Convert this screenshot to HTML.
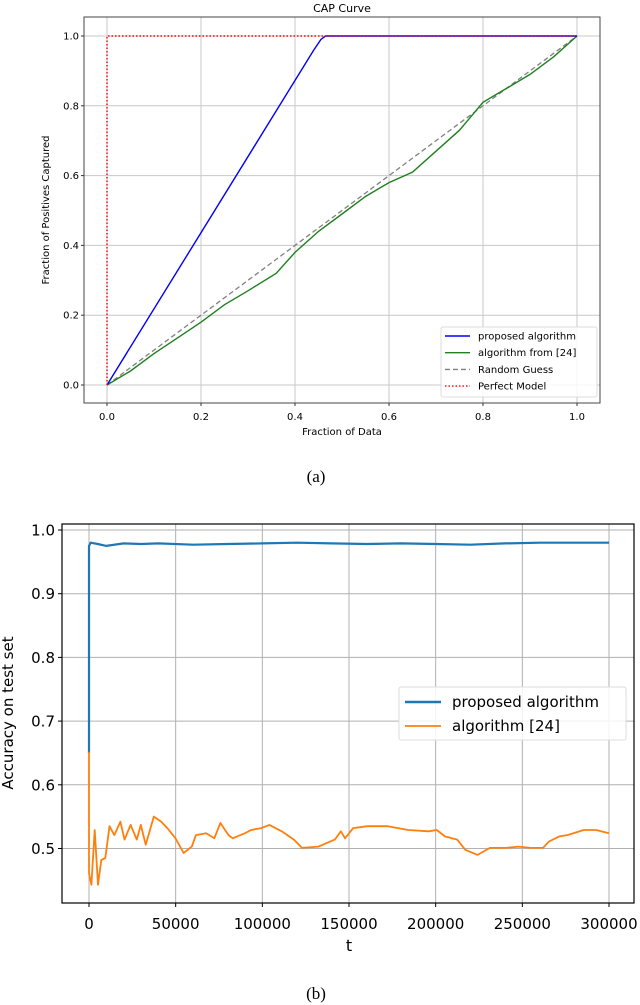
<!DOCTYPE html>
<html><head><meta charset="utf-8"><style>
body{margin:0;background:#fff;width:640px;height:1005px;overflow:hidden}
svg{display:block}
text{font-family:"DejaVu Sans","Liberation Sans",sans-serif}
</style></head><body>
<svg id="s" width="640" height="1005" xmlns="http://www.w3.org/2000/svg">
<text x="342" y="12" font-size="11" text-anchor="middle">CAP Curve</text>
<text x="316" y="482" font-size="17" text-anchor="middle" style="font-family:'Liberation Serif',serif">(a)</text>
<text x="316" y="999" font-size="17" text-anchor="middle" style="font-family:'Liberation Serif',serif">(b)</text>
<text transform="translate(49,210) rotate(-90)" font-size="10" text-anchor="middle">Fraction of Positives Captured</text>
<text x="342" y="435" font-size="10" text-anchor="middle">Fraction of Data</text>
<text transform="translate(13,713) rotate(-90)" font-size="15" text-anchor="middle">Accuracy on test set</text>
<text x="349" y="951" font-size="16" text-anchor="middle">t</text>
<g id="top"></g><g id="bot"></g>
</svg>
<script>
// ---- CAP chart data ----
const capTicks=[0,0.2,0.4,0.6,0.8,1.0];
const capTickLabels=["0.0","0.2","0.4","0.6","0.8","1.0"];
const propX=[0,0.44,0.455,0.465,0.51,1.0];
const propY=[0,0.96,0.99,1.0,1.0,1.0];
const greenX=[0,0.05,0.1,0.15,0.2,0.25,0.3,0.36,0.4,0.45,0.5,0.55,0.6,0.65,0.7,0.75,0.8,0.85,0.9,0.95,1.0];
const greenY=[0,0.04,0.09,0.135,0.18,0.23,0.27,0.32,0.38,0.44,0.49,0.54,0.58,0.61,0.67,0.73,0.81,0.85,0.89,0.94,1.0];
const randX=[0,1];const randY=[0,1];
const perfX=[0,0,1];const perfY=[0,1,1];
// ---- Accuracy chart data ----
const accTicksY=[0.5,0.6,0.7,0.8,0.9,1.0];
const accTickLabelsY=["0.5","0.6","0.7","0.8","0.9","1.0"];
const accTicksX=[0,50000,100000,150000,200000,250000,300000];
const accTickLabelsX=["0","50000","100000","150000","200000","250000","300000"];
const blueT=[0,0,1000,5000,10000,20000,30000,40000,60000,80000,100000,120000,140000,160000,180000,200000,220000,240000,260000,280000,300000];
const blueV=[0.65,0.975,0.98,0.978,0.975,0.979,0.978,0.979,0.977,0.978,0.979,0.98,0.979,0.978,0.979,0.978,0.977,0.979,0.98,0.98,0.98];
const orT=[0,0,1400,3300,5200,7100,9400,11800,14600,18100,20500,24000,27600,29900,32700,37400,41700,45200,49900,54600,59300,61700,67600,72300,75800,80500,82900,90000,93500,99400,104100,111200,118200,122900,132400,141800,145300,147700,152400,160600,172400,184200,195900,200600,205400,212400,217100,224200,231300,240700,247700,254800,261900,265400,271300,276000,285400,292500,300000];
const orV=[0.652,0.461,0.443,0.529,0.443,0.482,0.485,0.535,0.521,0.542,0.514,0.537,0.514,0.537,0.506,0.550,0.542,0.532,0.516,0.493,0.503,0.521,0.524,0.516,0.540,0.521,0.516,0.524,0.529,0.532,0.537,0.527,0.514,0.501,0.503,0.514,0.527,0.516,0.532,0.535,0.535,0.529,0.527,0.529,0.519,0.514,0.498,0.490,0.501,0.501,0.503,0.501,0.501,0.511,0.519,0.521,0.529,0.529,0.524];

const NS="http://www.w3.org/2000/svg";
function mk(p,tag,a){const e=document.createElementNS(NS,tag);for(const k in a)e.setAttribute(k,a[k]);p.appendChild(e);return e;}
function pts(xs,ys,fx,fy){return xs.map((x,i)=>fx(x).toFixed(1)+","+fy(ys[i]).toFixed(1)).join(" ");}

// top
const T=document.getElementById('top');
const cx=v=>107+v*470, cy=v=>385-v*349;
capTicks.forEach((v,i)=>{
 let g=mk(T,'line',{x1:cx(v),x2:cx(v),y1:17,y2:403,stroke:'#c8c8c8','stroke-width':1});
 
 g=mk(T,'line',{x1:84,x2:600,y1:cy(v),y2:cy(v),stroke:'#c8c8c8','stroke-width':1});
 
 let t=mk(T,'text',{x:cx(v),y:420,'font-size':10,'text-anchor':'middle'});t.textContent=capTickLabels[i];
 
 t=mk(T,'text',{x:79,y:cy(v)+3.5,'font-size':10,'text-anchor':'end'});t.textContent=capTickLabels[i];
 
 mk(T,'line',{x1:cx(v),x2:cx(v),y1:403,y2:406,stroke:'#333'});
 mk(T,'line',{x1:81,x2:84,y1:cy(v),y2:cy(v),stroke:'#333'});
});
let l;
l=mk(T,'polyline',{points:pts(randX,randY,cx,cy),fill:'none',stroke:'#808080','stroke-width':1.3,'stroke-dasharray':'5,3'});

l=mk(T,'polyline',{points:pts(greenX,greenY,cx,cy),fill:'none',stroke:'#1e801e','stroke-width':1.4});

l=mk(T,'polyline',{points:pts(propX,propY,cx,cy),fill:'none',stroke:'#0000ff','stroke-width':1.4});

l=mk(T,'polyline',{points:pts(perfX,perfY,cx,cy),fill:'none',stroke:'#ff0000','stroke-width':1.4,'stroke-dasharray':'1.5,2'});

l=mk(T,'rect',{x:84,y:17,width:516,height:386,fill:'none',stroke:'#444','stroke-width':1});

const lg=mk(T,'g',{});

mk(lg,'rect',{x:441,y:327,width:156,height:70,fill:'#fff','fill-opacity':0.85,stroke:'#ddd',rx:2});
[['proposed algorithm','#0000ff',''],['algorithm from [24]','#1e801e',''],['Random Guess','#808080','5,3'],['Perfect Model','#ff0000','1.5,2']].forEach((e,i)=>{
 const y=336+i*16.7;
 mk(lg,'line',{x1:445,x2:470,y1:y,y2:y,stroke:e[1],'stroke-width':1.4,'stroke-dasharray':e[2]});
 const t=mk(lg,'text',{x:478,y:y+3.5,'font-size':10});t.textContent=e[0];
 
});

// bottom
const B=document.getElementById('bot');
const bx=t=>89+t*520/300000, by=v=>530+(1-v)*637;
accTicksX.forEach((v,i)=>{
 let g=mk(B,'line',{x1:bx(v),x2:bx(v),y1:524,y2:903,stroke:'#b0b0b0','stroke-width':1});
 
 mk(B,'line',{x1:bx(v),x2:bx(v),y1:903,y2:907,stroke:'#000'});
 const t=mk(B,'text',{x:bx(v),y:929,'font-size':15,'text-anchor':'middle'});t.textContent=accTickLabelsX[i];
 
});
accTicksY.forEach((v,i)=>{
 let g=mk(B,'line',{x1:62,x2:634,y1:by(v),y2:by(v),stroke:'#b0b0b0','stroke-width':1});
 
 mk(B,'line',{x1:58,x2:62,y1:by(v),y2:by(v),stroke:'#000'});
 const t=mk(B,'text',{x:55,y:by(v)+5.5,'font-size':15,'text-anchor':'end'});t.textContent=accTickLabelsY[i];
 
});
l=mk(B,'polyline',{points:pts(blueT,blueV,bx,by),fill:'none',stroke:'#1f77b4','stroke-width':2.2});

l=mk(B,'polyline',{points:pts(orT,orV,bx,by),fill:'none',stroke:'#ff7f0e','stroke-width':1.8,'stroke-linejoin':'round'});

l=mk(B,'rect',{x:62,y:524,width:572,height:379,fill:'none',stroke:'#000','stroke-width':1.2});

const lg2=mk(B,'g',{});

mk(lg2,'rect',{x:399,y:687,width:227,height:53,fill:'#fff','fill-opacity':0.85,stroke:'#ddd',rx:2});
[['proposed algorithm','#1f77b4',2.5],['algorithm [24]','#ff7f0e',1.8]].forEach((e,i)=>{
 const y=702+i*24;
 mk(lg2,'line',{x1:405,x2:441,y1:y,y2:y,stroke:e[1],'stroke-width':e[2]});
 const t=mk(lg2,'text',{x:452,y:y+5,'font-size':15});t.textContent=e[0];
 
});
</script>
</body></html>
